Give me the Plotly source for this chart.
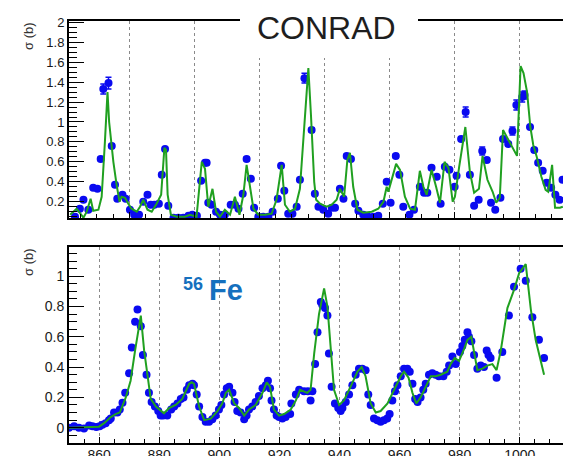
import plotly.graph_objects as go

# ---------------- data: top panel (CONRAD) ----------------
top_x = [863.3, 864.8, 865.9, 867.4, 868.9, 870.2, 871.2, 872.0, 873.6, 874.6, 875.6, 876.3, 877.9, 878.9,
         880.2, 881.5, 883.0, 884.3, 885.6, 886.6, 887.7, 889.1, 890.0, 891.0, 892.0, 893.6, 895.1, 896.6,
         898.2, 899.4, 900.8, 902.1, 903.3, 903.8, 904.3, 905.3, 906.7, 907.9, 909.4, 911.2, 912.5, 913.6,
         914.9, 916.1, 917.4, 918.4, 919.7, 921.2, 922.8, 924.1, 925.7, 926.7, 927.7, 928.9, 930.2, 931.5,
         932.5, 933.9, 936.1, 937.1, 938.2, 939.7, 941.2, 942.3, 943.3, 944.8, 945.9, 946.9, 948.2, 949.5,
         950.5, 952.0, 953.5, 955.1, 956.6, 958.0, 959.2, 960.4, 962.0, 963.1, 964.3, 966.2, 967.6, 969.4,
         970.7, 971.7, 973.0, 974.6, 975.8, 977.1, 978.5, 980.1, 980.7, 982.1, 983.5, 984.8, 986.1, 987.5,
         988.6, 990.0, 991.3, 992.6, 994.2, 995.0, 996.6, 997.9, 999.1, 1000.9, 1001.6, 1003.3, 1004.6,
         1005.8, 1007.2, 1008.4, 1009.8, 1011.1, 1012.4, 1013.3]
top_y = [0.05, 0.13, 0.22, 0.12, 0.34, 0.33, 0.63, 1.33, 1.39, 0.76, 0.37, 0.23, 0.27, 0.23,
         0.12, 0.07, 0.07, 0.20, 0.27, 0.17, 0.17, 0.18, 0.47, 0.73, 0.16, 0.04, 0.04, 0.04,
         0.06, 0.07, 0.06, 0.41, 0.59, 0.59, 0.19, 0.17, 0.10, 0.07, 0.07, 0.17, 0.17, 0.13,
         0.28, 0.63, 0.43, 0.14, 0.05, 0.05, 0.05, 0.10, 0.23, 0.56, 0.31, 0.08, 0.08, 0.15,
         0.42, 1.44, 0.92, 0.28, 0.15, 0.12, 0.08, 0.14, 0.14, 0.33, 0.23, 0.66, 0.63, 0.18,
         0.11, 0.07, 0.05, 0.05, 0.06, 0.18, 0.40, 0.19, 0.66, 0.47, 0.15, 0.07, 0.12, 0.35,
         0.29, 0.29, 0.54, 0.45, 0.18, 0.55, 0.52, 0.35, 0.46, 0.83, 1.10, 0.47, 0.16, 0.22,
         0.71, 0.62, 0.19, 0.12, 0.24, 0.83, 0.78, 0.91, 1.17, 1.25, 1.27, 0.95, 0.72,
         0.59, 0.51, 0.39, 0.34, 0.27, 0.22, 0.42]
top_err = [0.01, 0.01, 0.01, 0.01, 0.01, 0.01, 0.02, 0.05, 0.06, 0.02, 0.01, 0.01, 0.01, 0.01,
           0.01, 0.01, 0.01, 0.01, 0.01, 0.01, 0.01, 0.01, 0.02, 0.02, 0.01, 0.01, 0.01, 0.01,
           0.01, 0.01, 0.01, 0.01, 0.02, 0.02, 0.01, 0.01, 0.01, 0.01, 0.01, 0.01, 0.01, 0.01,
           0.01, 0.02, 0.01, 0.01, 0.01, 0.01, 0.01, 0.01, 0.01, 0.02, 0.01, 0.01, 0.01, 0.01,
           0.02, 0.05, 0.02, 0.01, 0.01, 0.01, 0.01, 0.01, 0.01, 0.01, 0.01, 0.02, 0.02, 0.01,
           0.01, 0.01, 0.01, 0.01, 0.01, 0.01, 0.02, 0.01, 0.02, 0.01, 0.01, 0.01, 0.01, 0.01,
           0.01, 0.01, 0.02, 0.01, 0.01, 0.02, 0.01, 0.01, 0.01, 0.02, 0.05, 0.02, 0.01, 0.01,
           0.04, 0.02, 0.01, 0.01, 0.01, 0.02, 0.02, 0.04, 0.05, 0.05, 0.04, 0.02, 0.02,
           0.02, 0.01, 0.01, 0.01, 0.01, 0.01, 0.01]
top_fit_x = [861.8, 863.8, 865.9, 866.9, 868.1, 868.9, 870.5, 871.5, 872.5, 873.3, 873.8, 875.1, 876.1,
             877.0, 877.6, 878.7, 879.7, 880.7, 882.3, 883.3, 884.3, 885.6, 886.9, 888.4, 889.8, 890.8,
             891.3, 891.8, 892.8, 894.6, 897.1, 898.7, 900.7, 902.3, 903.3, 904.3, 905.6, 906.7, 907.9,
             909.4, 911.0, 912.5, 913.9, 915.1, 916.1, 917.1, 918.2, 919.7, 921.8, 923.8, 925.3, 926.9,
             927.9, 929.4, 931.0, 932.5, 934.0, 935.1, 935.9, 936.9, 937.5, 938.7, 940.7, 942.3, 943.8,
             944.8, 946.1, 947.1, 947.9, 948.9, 950.2, 952.0, 954.6, 956.6, 958.2, 959.2, 959.7, 962.1,
             963.3, 964.8, 966.4, 967.9, 969.4, 970.5, 971.5, 973.0, 974.4, 975.6, 977.0, 978.2, 979.5,
             980.2, 981.5, 983.4, 984.8, 986.1, 987.6, 988.7, 990.2, 991.8, 992.9, 994.0, 995.0, 996.1,
             997.7, 999.3, 1000.4, 1001.3, 1002.4, 1003.4, 1004.3, 1005.3, 1006.8, 1008.1, 1008.9,
             1010.1, 1011.0, 1012.5, 1013.4]
top_fit_y = [0.07, 0.13, 0.04, 0.10, 0.23, 0.11, 0.12, 0.25, 0.80, 1.30, 1.00, 0.60, 0.37,
             0.20, 0.25, 0.24, 0.18, 0.13, 0.10, 0.15, 0.22, 0.12, 0.10, 0.18, 0.27, 0.74,
             0.72, 0.27, 0.07, 0.05, 0.05, 0.07, 0.05, 0.60, 0.53, 0.15, 0.33, 0.10, 0.05,
             0.12, 0.07, 0.25, 0.07, 0.27, 0.57, 0.37, 0.13, 0.07, 0.07, 0.08, 0.22, 0.57,
             0.17, 0.10, 0.13, 0.33, 1.00, 1.54, 1.07, 0.40, 0.22, 0.18, 0.15, 0.17, 0.22,
             0.33, 0.25, 0.62, 0.69, 0.35, 0.12, 0.09, 0.10, 0.13, 0.20, 0.35, 0.30, 0.58,
             0.52, 0.25, 0.13, 0.12, 0.51, 0.35, 0.27, 0.52, 0.35, 0.19, 0.60, 0.54, 0.20,
             0.25, 0.55, 0.95, 0.50, 0.29, 0.33, 0.66, 0.42, 0.30, 0.19, 0.24, 0.92, 0.85,
             0.75, 0.66, 1.56, 1.49, 1.30, 0.95, 0.77, 0.66, 0.45, 0.32, 0.30,
             0.57, 0.14, 0.14, 0.15]

# ---------------- data: bottom panel (56Fe) ----------------
bot_x = [850.0, 851.7, 853.3, 855.0, 856.7, 857.8, 859.1, 860.2, 861.1, 862.2, 863.3, 863.9, 865.0, 866.1,
         866.9, 867.8, 868.7, 870.0, 870.9, 872.0, 872.8, 873.9, 874.6, 875.8, 876.6, 877.5, 878.6, 879.7,
         880.5, 881.3, 882.7, 884.0, 885.0, 886.1, 887.2, 888.1, 889.2, 890.0, 891.1, 891.6, 892.5, 893.3,
         894.4, 895.5, 896.6, 897.7, 898.8, 899.9, 900.7, 901.6, 902.5, 903.3, 904.4, 905.1, 906.0, 907.1,
         908.3, 909.1, 909.9, 911.0, 912.1, 913.2, 914.4, 915.5, 916.2, 916.9, 917.4, 918.2, 919.1, 919.9,
         921.0, 922.1, 923.6, 924.0, 925.5, 926.6, 928.2, 929.5, 930.4, 931.0, 931.9, 932.7, 933.8, 934.3,
         935.2, 936.0, 936.5, 937.4, 938.5, 939.6, 940.4, 941.0, 942.1, 943.2, 944.3, 945.4, 946.5, 947.6,
         948.7, 949.6, 950.4, 951.5, 952.6, 953.7, 954.8, 955.9, 956.7, 957.6, 958.5, 959.3, 960.4, 961.5,
         962.6, 963.4, 964.3, 965.2, 966.0, 967.0, 967.9, 968.7, 969.8, 970.9, 972.0, 973.1, 974.6, 975.7,
         976.5, 977.6, 978.7, 980.1, 980.9, 981.7, 982.6, 983.1, 983.9, 984.8, 985.9, 987.0, 988.1, 989.0,
         989.6, 990.3, 992.3, 994.2, 996.4, 998.1, 1000.3, 1002.0, 1004.2, 1006.4, 1008.1]
bot_y = [0.00, 0.01, 0.00, -0.005, 0.015, 0.01, 0.005, 0.01, 0.02, 0.03, 0.05, 0.06, 0.10, 0.10,
         0.12, 0.165, 0.23, 0.36, 0.53, 0.70, 0.78, 0.67, 0.48, 0.35, 0.23, 0.17, 0.14, 0.11,
         0.08, 0.08, 0.08, 0.12, 0.14, 0.16, 0.19, 0.20, 0.25, 0.28, 0.29, 0.28, 0.22, 0.14,
         0.07, 0.04, 0.04, 0.055, 0.08, 0.12, 0.15, 0.22, 0.26, 0.27, 0.23, 0.17, 0.11, 0.10,
         0.055, 0.08, 0.12, 0.14, 0.17, 0.21, 0.26, 0.28, 0.31, 0.26, 0.18, 0.12, 0.08, 0.07,
         0.06, 0.07, 0.09, 0.16, 0.22, 0.25, 0.24, 0.24, 0.18, 0.24, 0.42, 0.63, 0.83, 0.81,
         0.79, 0.74, 0.49, 0.27, 0.16, 0.13, 0.11, 0.13, 0.17, 0.22, 0.28, 0.35, 0.39, 0.39,
         0.38, 0.22, 0.15, 0.06, 0.05, 0.04, 0.05, 0.06, 0.09, 0.18, 0.24, 0.28, 0.34, 0.39,
         0.39, 0.37, 0.29, 0.19, 0.17, 0.20, 0.25, 0.29, 0.35, 0.36, 0.35, 0.34, 0.34, 0.37,
         0.41, 0.47, 0.42, 0.50, 0.54, 0.58, 0.63, 0.60, 0.57, 0.48, 0.39, 0.41, 0.40, 0.51,
         0.48, 0.46, 0.33, 0.50, 0.74, 0.93, 1.05, 0.97, 0.73, 0.58, 0.46]
bot_fit_x = [850.0, 860.0, 861.7, 863.9, 865.5, 866.9, 868.9, 870.5, 872.0, 873.3, 873.9, 875.0, 876.1,
             877.2, 878.9, 880.5, 881.6, 883.3, 885.5, 887.7, 890.0, 890.8, 891.6, 893.3, 895.0, 897.2,
             899.4, 901.0, 902.2, 903.3, 905.0, 906.6, 908.3, 909.9, 912.1, 914.4, 915.8, 916.9, 918.2,
             919.9, 921.6, 923.8, 925.5, 926.9, 928.2, 929.3, 930.4, 931.6, 933.2, 934.9, 936.0, 937.1,
             938.2, 939.9, 941.5, 943.7, 946.0, 947.4, 948.7, 950.4, 952.1, 953.7, 956.0, 958.7, 960.4,
             961.5, 963.0, 964.3, 965.6, 967.0, 968.7, 970.4, 972.0, 973.7, 975.9, 977.0, 978.4, 979.8,
             981.5, 982.6, 983.9, 985.0, 985.9, 987.6, 989.2, 990.9, 992.3, 993.7, 995.9, 998.1, 999.8,
             1002.0, 1003.7, 1005.3, 1006.8, 1008.1]
bot_fit_y = [0.0, 0.007, 0.03, 0.07, 0.09, 0.10, 0.20, 0.31, 0.51, 0.67, 0.74, 0.51, 0.34,
             0.19, 0.14, 0.11, 0.095, 0.13, 0.15, 0.19, 0.29, 0.30, 0.29, 0.14, 0.05, 0.06,
             0.11, 0.16, 0.23, 0.25, 0.16, 0.13, 0.08, 0.12, 0.15, 0.23, 0.30, 0.27, 0.12,
             0.08, 0.09, 0.12, 0.18, 0.25, 0.24, 0.23, 0.25, 0.49, 0.75, 0.92, 0.80, 0.51,
             0.25, 0.15, 0.18, 0.27, 0.37, 0.40, 0.34, 0.16, 0.10, 0.11, 0.16, 0.27, 0.34,
             0.37, 0.33, 0.23, 0.16, 0.20, 0.27, 0.34, 0.34, 0.35, 0.37, 0.42, 0.46, 0.44,
             0.52, 0.58, 0.60, 0.48, 0.38, 0.39, 0.41, 0.42, 0.38, 0.51, 0.79, 0.91, 1.02,
             1.08, 0.78, 0.58, 0.46, 0.35]

# ---------------- style ----------------
W, H = 563, 456
ML, MB = 69, 13
PH = H - MB  # plotting area height (t=0)
BLUE = "#0a0af0"
GREEN = "#20a020"
FONT = "Liberation Sans, Arial, sans-serif"


def py2paper(py):
    return (PH - py) / PH


def px2paper(px):
    return (px - ML) / (W - ML)


fig = go.Figure()

fig.add_trace(go.Scatter(x=top_x, y=top_y, mode="markers", xaxis="x", yaxis="y",
                         marker=dict(color=BLUE, size=8),
                         error_y=dict(type="data", array=top_err, color=BLUE, thickness=1.5, width=3),
                         showlegend=False))
fig.add_trace(go.Scatter(x=top_fit_x, y=top_fit_y, mode="lines", xaxis="x", yaxis="y",
                         line=dict(color=GREEN, width=2), showlegend=False))
fig.add_trace(go.Scatter(x=bot_x, y=bot_y, mode="markers", xaxis="x2", yaxis="y2",
                         marker=dict(color=BLUE, size=8), showlegend=False))
fig.add_trace(go.Scatter(x=bot_fit_x, y=bot_fit_y, mode="lines", xaxis="x2", yaxis="y2",
                         line=dict(color=GREEN, width=2), showlegend=False))

common_x = dict(showline=True, linecolor="black", linewidth=2, mirror=True,
                ticks="inside", ticklen=6, tickcolor="black", tickwidth=1,
                tick0=860, dtick=20, automargin=False,
                minor=dict(ticks="inside", ticklen=4, dtick=5, tickcolor="black", tickwidth=1),
                showgrid=True, gridcolor="#8a8a8a", griddash="dot", gridwidth=1,
                zeroline=False, tickfont=dict(family=FONT, size=14, color="#1a1a1a"))
common_y = dict(showline=True, linecolor="black", linewidth=2, mirror=False,
                ticks="inside", ticklen=15, tickcolor="black", tickwidth=1,
                tick0=0, dtick=0.2, automargin=False,
                minor=dict(ticks="inside", ticklen=8, dtick=0.05, tickcolor="black", tickwidth=1),
                showgrid=False, zeroline=False)

fig.update_layout(
    width=W, height=H,
    margin=dict(l=ML, r=0, t=0, b=MB),
    paper_bgcolor="white", plot_bgcolor="white",
    xaxis=dict(common_x, domain=[0, 1], range=[861.45, 1013.45], anchor="y", showticklabels=False),
    yaxis=dict(common_y, domain=[py2paper(218), py2paper(21)], range=[0.037, 2.013], anchor="x",
               tickfont=dict(family=FONT, size=13, color="#1a1a1a")),
    xaxis2=dict(common_x, domain=[0, 1], range=[850.0, 1014.4], anchor="y2", ticklabelstandoff=-2),
    yaxis2=dict(common_y, domain=[py2paper(443), py2paper(247)], range=[-0.101, 1.193], anchor="x2",
                tickfont=dict(family=FONT, size=14, color="#1a1a1a")),
    shapes=[dict(type="rect", xref="paper", yref="paper", layer="above",
                 x0=px2paper(240), x1=px2paper(418), y0=py2paper(58), y1=1.02,
                 fillcolor="white", line=dict(width=0))],
    annotations=[
        dict(text="CONRAD", xref="paper", yref="paper", x=px2paper(326), y=py2paper(28),
             xanchor="center", yanchor="middle", showarrow=False,
             font=dict(family=FONT, size=32, color="#1e1e1e")),
        dict(text="σ (b)", xref="paper", yref="paper", x=px2paper(28), y=py2paper(36),
             xanchor="center", yanchor="middle", showarrow=False, textangle=-90,
             font=dict(family=FONT, size=13, color="#333333")),
        dict(text="σ (b)", xref="paper", yref="paper", x=px2paper(28), y=py2paper(262),
             xanchor="center", yanchor="middle", showarrow=False, textangle=-90,
             font=dict(family=FONT, size=13, color="#333333")),
        dict(text="<b>56</b>", xref="paper", yref="paper", x=px2paper(193), y=py2paper(284),
             xanchor="center", yanchor="middle", showarrow=False,
             font=dict(family=FONT, size=18, color="#1570be")),
        dict(text="<b>Fe</b>", xref="paper", yref="paper", x=px2paper(226), y=py2paper(290),
             xanchor="center", yanchor="middle", showarrow=False,
             font=dict(family=FONT, size=29, color="#1570be")),
    ],
)

fig.write_html("out.html")
